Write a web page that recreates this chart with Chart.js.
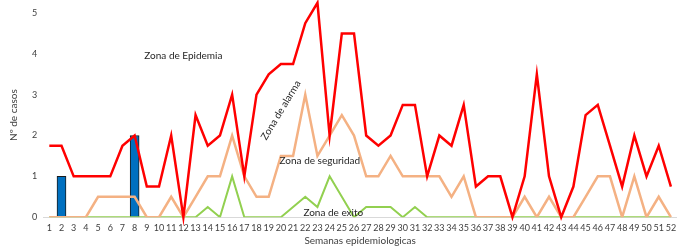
<!DOCTYPE html>
<html>
<head>
<meta charset="utf-8">
<script src="https://cdn.jsdelivr.net/npm/chart.js@4/dist/chart.umd.min.js"></script>
<style>
  html, body { margin: 0; padding: 0; background: #fff; }
  #wrap { width: 677px; height: 248px; position: relative; }
</style>
</head>
<body>
<div id="wrap"><canvas id="myChart"></canvas></div>
<script>
// semanas 1..52
const weeks = []
for (let i = 1; i <= 52; i++) weeks.push(String(i))

const casos = [null, 1, null, null, null, null, null, 2, null, null, null, null, null,
  null, null, null, null, null, null, null, null, null, null, null, null, null,
  null, null, null, null, null, null, null, null, null, null, null, null, null,
  null, null, null, null, null, null, null, null, null, null, null, null, null]

const epidemia = [1.75, 1.75, 1, 1, 1, 1, 1.75, 2, 0.75, 0.75, 2, 0, 2.5,
  1.75, 2, 3, 1, 3, 3.5, 3.75, 3.75, 4.75, 5.25, 2, 4.5, 4.5,
  2, 1.75, 2, 2.75, 2.75, 1, 2, 1.75, 2.75, 0.75, 1, 1, 0,
  1, 3.5, 1, 0, 0.75, 2.5, 2.75, 1.75, 0.75, 2, 1, 1.75, 0.75]

const alarma = [0, 0, 0, 0, 0.5, 0.5, 0.5, 0.5, 0, 0, 0.5, 0, 0.5,
  1, 1, 2, 1, 0.5, 0.5, 1.5, 1.5, 3, 1.5, 2, 2.5, 2,
  1, 1, 1.5, 1, 1, 1, 1, 0.5, 1, 0, 0, 0, 0,
  0.5, 0, 0.5, 0, 0, 0.5, 1, 1, 0, 1, 0, 0.5, 0]

const seguridad = [0, 0, 0, 0, 0, 0, 0, 0, 0, 0, 0, 0, 0,
  0.25, 0, 1, 0, 0, 0, 0, 0.25, 0.5, 0.25, 1, 0.5, 0,
  0.25, 0.25, 0.25, 0, 0.25, 0, 0, 0, 0, 0, 0, 0, 0,
  0, 0, 0, 0, 0, 0, 0, 0, 0, 0, 0, 0, 0]

// [texto, semana, valor, rotacion]
const zonas = [
  ['Zona de Epidemia', 12.0, 3.95, 0],
  ['Zona de alarma', 20.0, 2.62, -59],
  ['Zona de seguridad', 23.2, 1.39, 0],
  ['Zona de exito', 24.3, 0.1, 0],
]

const zoneLabels = {
  id: 'zoneLabels',
  afterDatasetsDraw(chart) {
    const ctx = chart.ctx
    const x = chart.scales.x
    const y = chart.scales.y
    ctx.save()
    ctx.font = '10px Lato'
    ctx.fillStyle = '#262626'
    ctx.textAlign = 'center'
    ctx.textBaseline = 'middle'
    zonas.forEach(function (z) {
      // semana 1 is index 0
      const px = x.getPixelForValue(z[1] - 1)
      const py = y.getPixelForValue(z[2])
      ctx.save()
      ctx.translate(px, py)
      ctx.rotate(z[3] * Math.PI / 180)
      ctx.fillText(z[0], 0, 0)
      ctx.restore()
    })
    ctx.restore()
  }
}

const ctx = document.getElementById('myChart').getContext('2d')
new Chart(ctx, {
  type: 'bar',
  data: {
    labels: weeks,
    datasets: [
      {
        type: 'line',
        data: epidemia,
        borderColor: '#FF0000',
        borderWidth: 2.5,
        pointRadius: 0,
        tension: 0,
        clip: false,
        order: 1,
      },
      {
        type: 'line',
        data: alarma,
        borderColor: '#F4B183',
        borderWidth: 2.5,
        pointRadius: 0,
        tension: 0,
        order: 2,
      },
      {
        type: 'line',
        data: seguridad,
        borderColor: '#92D050',
        borderWidth: 2,
        pointRadius: 0,
        tension: 0,
        order: 3,
      },
      {
        type: 'bar',
        data: casos,
        backgroundColor: '#0070C0',
        borderColor: '#1a1a1a',
        borderWidth: 1,
        barThickness: 9,
        order: 4,
      },
    ],
  },
  options: {
    responsive: true,
    maintainAspectRatio: false,
    animation: false,
    layout: { padding: { top: 13, right: 0, left: 8, bottom: 0 } },
    plugins: {
      legend: { display: false },
      tooltip: { enabled: false },
    },
    scales: {
      x: {
        grid: { display: false, drawTicks: false },
        border: { color: '#D9D9D9' },
        ticks: {
          color: '#404040',
          font: { family: 'Lato', size: 9 },
          maxRotation: 0,
          autoSkip: false,
          padding: 5,
        },
        title: {
          display: true,
          text: 'Semanas epidemiologicas',
          color: '#404040',
          font: { family: 'Lato', size: 10 },
          padding: { top: -3, bottom: 1 },
        },
        // no extra room at the ends, the plot runs to the edge
        afterFit(scale) {
          scale.paddingLeft = 0
          scale.paddingRight = 0
        },
      },
      y: {
        min: 0,
        max: 5,
        grid: { display: false, drawTicks: false },
        border: { display: false },
        ticks: {
          stepSize: 1,
          color: '#404040',
          font: { family: 'Lato', size: 9 },
          padding: 6,
        },
        title: {
          display: true,
          text: 'Nº de casos',
          color: '#404040',
          font: { family: 'Lato', size: 10 },
          padding: { top: 0, bottom: 6 },
        },
      },
    },
  },
  plugins: [zoneLabels],
})
</script>
</body>
</html>
